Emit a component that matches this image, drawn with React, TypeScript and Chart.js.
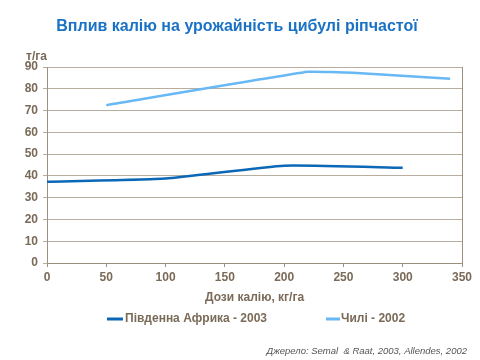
import React, { useEffect, useRef } from "react";
import { Chart, registerables } from "chart.js";

Chart.register(...registerables);

const titleText = "Вплив калію на урожайність цибулі ріпчастої";
const yUnit = "т/га";
const xTitle = "Дози калію, кг/га";
const sourceText = "Джерело: Semal  & Raat, 2003, Allendes, 2002";

const saLabel = "Південна Африка - 2003";
const saDoses = [0, 100, 200, 300];
const saYield = [37.3, 38.8, 44.7, 43.7];

const chileLabel = "Чилі - 2002";
const chileDoses = [50, 220, 258, 340];
const chileYield = [72.5, 87.8, 87.4, 84.6];

const xTicks = [0, 50, 100, 150, 200, 250, 300, 350];
const yTicks = [0, 10, 20, 30, 40, 50, 60, 70, 80, 90];

const textColor = "#7a6a58";
const gridColor = "#b8ae9f";
const axisColor = "#9c8f7e";

const decorPlugin = {
  id: "decor",
  afterDraw(chart: any) {
    const ctx = chart.ctx;
    ctx.save();
    ctx.fillStyle = "#1a72c4";
    ctx.font = "bold 16px 'Liberation Sans', Arial, sans-serif";
    ctx.textAlign = "center";
    ctx.textBaseline = "middle";
    ctx.fillText(titleText, 237, 27);

    ctx.fillStyle = textColor;
    ctx.font = "bold 12px 'Liberation Sans', Arial, sans-serif";
    ctx.textAlign = "left";
    ctx.fillText(yUnit, 26, 57);

    // legend
    const ds = chart.data.datasets;
    const items = [
      { x: 107, len: 16, tx: 125 },
      { x: 326, len: 14, tx: 341 },
    ];
    ds.forEach((d: any, i: number) => {
      const it = items[i];
      ctx.strokeStyle = d.borderColor;
      ctx.lineWidth = 3;
      ctx.beginPath();
      ctx.moveTo(it.x, 319);
      ctx.lineTo(it.x + it.len, 319);
      ctx.stroke();
      ctx.fillStyle = textColor;
      ctx.font = "bold 12px 'Liberation Sans', Arial, sans-serif";
      ctx.textAlign = "left";
      ctx.textBaseline = "middle";
      ctx.fillText(d.label, it.tx, 319);
    });

    ctx.fillStyle = "#555555";
    ctx.font = "italic 9.5px 'Liberation Sans', Arial, sans-serif";
    ctx.textAlign = "right";
    ctx.fillText(sourceText, 467, 351);
    ctx.restore();
  },
};

export default function App() {
  const ref = useRef<HTMLCanvasElement | null>(null);
  useEffect(() => {
    if (!ref.current) return;
    const chart = new Chart(ref.current, {
      type: "line",
      data: {
        datasets: [
          {
            label: saLabel,
            data: saDoses.map((x, i) => ({ x, y: saYield[i] })),
            borderColor: "#0b68b6",
            borderWidth: 2.5,
            pointRadius: 0,
            tension: 0.15,
            fill: false,
          },
          {
            label: chileLabel,
            data: chileDoses.map((x, i) => ({ x, y: chileYield[i] })),
            borderColor: "#68b8f4",
            borderWidth: 2.5,
            pointRadius: 0,
            tension: 0.1,
            fill: false,
          },
        ],
      },
      options: {
        responsive: false,
        animation: false,
        layout: { padding: { left: 0, right: 18, top: 67, bottom: 52 } },
        plugins: {
          legend: { display: false },
          title: { display: false },
          tooltip: { enabled: false },
        },
        scales: {
          x: {
            type: "linear",
            min: 0,
            max: 350,
            afterBuildTicks: (s: any) => {
              s.ticks = xTicks.map((v) => ({ value: v }));
            },
            afterFit: (s: any) => {
              s.height = 45;
            },
            ticks: {
              color: textColor,
              font: { family: "'Liberation Sans', Arial, sans-serif", size: 12, weight: "bold" },
              padding: 3,
              maxRotation: 0,
            },
            grid: { display: true, drawOnChartArea: false, drawTicks: true, tickLength: 4, color: axisColor },
            border: { color: axisColor, width: 1 },
            title: {
              display: true,
              text: xTitle,
              color: textColor,
              font: { family: "'Liberation Sans', Arial, sans-serif", size: 12, weight: "bold" },
              padding: { top: 0, bottom: 3 },
            },
          },
          y: {
            min: 0,
            max: 90,
            afterBuildTicks: (s: any) => {
              s.ticks = yTicks.map((v) => ({ value: v }));
            },
            afterFit: (s: any) => {
              s.width = 47;
            },
            ticks: {
              color: textColor,
              font: { family: "'Liberation Sans', Arial, sans-serif", size: 12, weight: "bold" },
              padding: 5,
            },
            grid: { color: gridColor, tickLength: 4, lineWidth: 1 },
            border: { color: axisColor, width: 1 },
          },
          y2: {
            position: "right",
            min: 0,
            max: 90,
            ticks: { display: false },
            grid: { display: false },
            border: { color: axisColor, width: 1 },
            afterFit: (s: any) => {
              s.width = 0;
            },
          },
        },
      },
      plugins: [decorPlugin],
    } as any);
    return () => chart.destroy();
  }, []);
  return (
    <div style={{ position: "fixed", left: 0, top: 0, width: 480, height: 360, background: "#fff" }}>
      <canvas ref={ref} width={480} height={360} style={{ width: 480, height: 360, display: "block" }} />
    </div>
  );
}
